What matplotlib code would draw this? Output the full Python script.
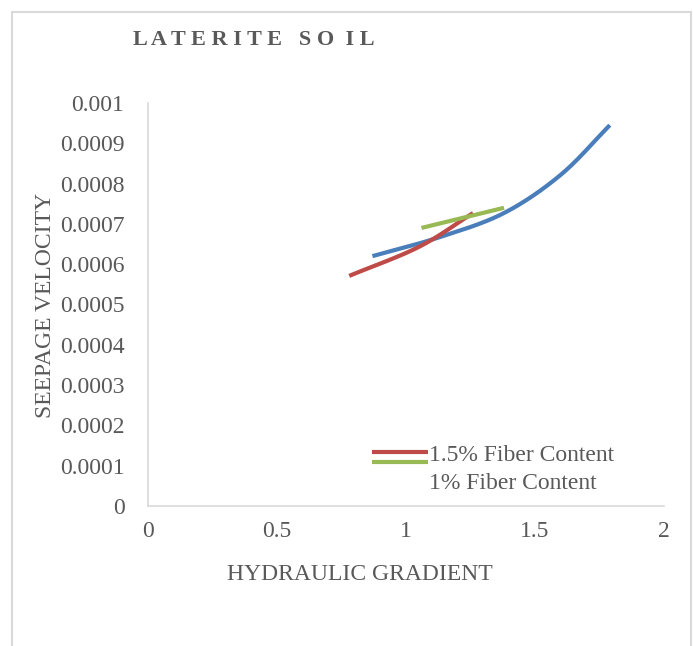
import numpy as np
import matplotlib
matplotlib.use("Agg")
import matplotlib.pyplot as plt
from matplotlib.lines import Line2D
from matplotlib.patches import Rectangle
from matplotlib.legend_handler import HandlerBase

# ---- data ----
blue_x = [0.87, 1.13, 1.38, 1.60, 1.79]
blue_y = [0.000620, 0.000667, 0.000727, 0.000822, 0.000945]
red_x = [0.78, 1.05, 1.26]
red_y = [0.000571, 0.000643, 0.000727]
green_x = [1.06, 1.38]
green_y = [0.000690, 0.000740]
labels = ["1.5% Fiber Content", "1% Fiber Content"]
x_ticks = [0, 0.5, 1, 1.5, 2]
y_ticks = [0, 0.0001, 0.0002, 0.0003, 0.0004, 0.0005, 0.0006, 0.0007, 0.0008, 0.0009, 0.001]
y_tick_labels = ["0", "0.0001", "0.0002", "0.0003", "0.0004", "0.0005", "0.0006",
                 "0.0007", "0.0008", "0.0009", "0.001"]


def smooth(xs, ys, n=40):
    """Catmull-Rom spline through the points (like Excel smoothed lines)."""
    P = np.column_stack([xs, ys]).astype(float)
    if len(P) < 3:
        return P[:, 0], P[:, 1]
    ext = np.vstack([2 * P[0] - P[1], P, 2 * P[-1] - P[-2]])
    out = []
    t = np.linspace(0, 1, n)
    for i in range(1, len(ext) - 2):
        p0, p1, p2, p3 = ext[i - 1], ext[i], ext[i + 1], ext[i + 2]
        tt = t[:, None]
        seg = 0.5 * ((2 * p1) + (-p0 + p2) * tt + (2 * p0 - 5 * p1 + 4 * p2 - p3) * tt ** 2
                     + (-p0 + 3 * p1 - 3 * p2 + p3) * tt ** 3)
        out.append(seg if i == 1 else seg[1:])
    out = np.vstack(out)
    return out[:, 0], out[:, 1]


class StackedHandler(HandlerBase):
    """Draws the handle lines stacked just below one another next to the first entry."""
    def create_artists(self, legend, orig_handle, xdescent, ydescent, width, height,
                       fontsize, trans):
        arts = []
        y0 = height / 2 - ydescent
        for k, h in enumerate(orig_handle):
            y = y0 - k * 0.42 * fontsize
            ln = Line2D([-xdescent, width - xdescent + 3], [y, y], color=h.get_color(),
                        lw=h.get_linewidth(), solid_capstyle='butt', transform=trans)
            arts.append(ln)
        return arts


class EmptyHandler(HandlerBase):
    def create_artists(self, legend, orig_handle, xdescent, ydescent, width, height,
                       fontsize, trans):
        ln = Line2D([0, 1], [0, 0], transform=trans)
        ln.set_visible(False)
        return [ln]


plt.rcParams['font.family'] = ['Liberation Serif', 'DejaVu Serif']
gray = '#595959'
axis_gray = '#D9D9D9'
FS = 17

fig = plt.figure(figsize=(6.93, 6.46), dpi=100)
fig.patches.append(Rectangle((12 / 693, -0.05), (691 - 12) / 693, (646 - 12) / 646 + 0.05,
                             transform=fig.transFigure, fill=False,
                             edgecolor=axis_gray, linewidth=1.5))

ax = fig.add_axes([148 / 693, 1 - 506 / 646, (664 - 148) / 693, (506 - 103) / 646])

c_blue = '#4A7EBB'
c_red = '#BE4B48'
c_green = '#98B954'

bx, by = smooth(blue_x, blue_y)
rx, ry = smooth(red_x, red_y)
gx, gy = smooth(green_x, green_y)
ax.plot(bx, by, color=c_blue, lw=3, solid_capstyle='butt')
red_line, = ax.plot(rx, ry, color=c_red, lw=3, solid_capstyle='butt')
green_line, = ax.plot(gx, gy, color=c_green, lw=3, solid_capstyle='butt')

ax.set_xlim(0, 2)
ax.set_ylim(0, 0.001)
ax.set_xticks(x_ticks)
ax.set_xticklabels([f"{v:g}" for v in x_ticks])
ax.set_yticks(y_ticks)
ax.set_yticklabels(y_tick_labels)
ax.tick_params(axis='y', length=0, labelsize=FS, colors=gray, pad=17)
ax.tick_params(axis='x', length=0, labelsize=FS, colors=gray, pad=11)
for s in ['top', 'right']:
    ax.spines[s].set_visible(False)
for s in ['left', 'bottom']:
    ax.spines[s].set_color(axis_gray)
    ax.spines[s].set_linewidth(1.2)

ax.set_xlabel("HYDRAULIC GRADIENT", fontsize=FS, color=gray)
ax.xaxis.set_label_coords((360 - 148) / (664 - 148), -(574 - 506) / (506 - 103))
ax.xaxis.label.set_va('center')
ax.set_ylabel("SEEPAGE VELOCITY", fontsize=FS, color=gray)
ax.yaxis.set_label_coords(-(148 - 46) / (664 - 148), (506 - 305) / (506 - 103))
ax.yaxis.label.set_va('center')

fig.text(133 / 693, 1 - 40 / 646, "L A T E R I T E   S O  I L", fontsize=16, fontweight='bold',
         color=gray, va='center', ha='left')

empty = Line2D([], [])
leg = ax.legend([(red_line, green_line), empty], labels,
                handler_map={tuple: StackedHandler(), empty: EmptyHandler()},
                loc='upper left', bbox_to_anchor=((372 - 148) / 516, (506 - 444) / 403),
                frameon=False, fontsize=FS, labelcolor=gray, handlelength=2.2,
                handletextpad=0.2, labelspacing=0.28, borderaxespad=0, borderpad=0)

fig.savefig("out.png", dpi=100)
